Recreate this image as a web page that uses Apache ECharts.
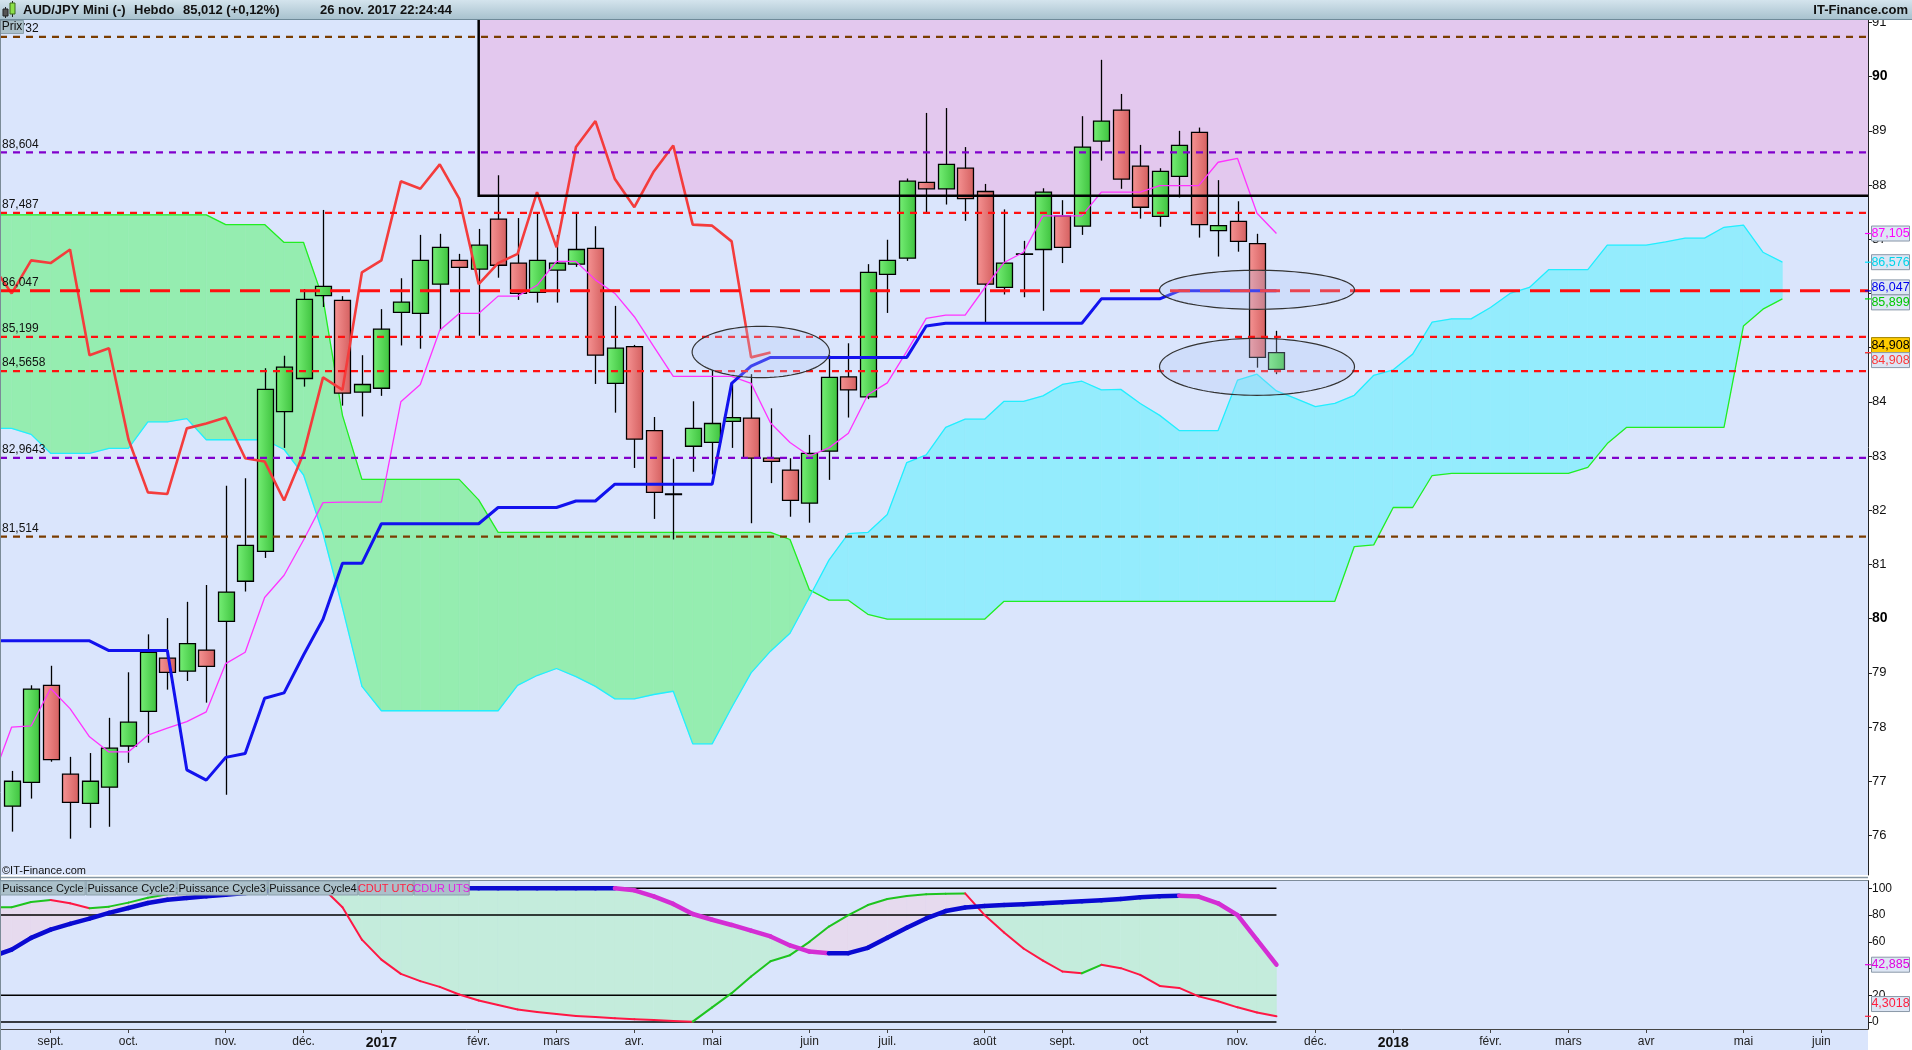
<!DOCTYPE html>
<html lang="fr">
<head>
<meta charset="utf-8">
<title>AUD/JPY Mini - Hebdo</title>
<script src="https://cdn.jsdelivr.net/npm/echarts@6.0.0/dist/echarts.min.js"></script>
<style>
  html, body { margin: 0; padding: 0; background: #fff; }
  #chart { width: 1912px; height: 1050px; }
</style>
</head>
<body>
<div id="chart"></div>
<script>
// Weekly bars. Week 0 is the bar of Monday 2016-08-22, week 65 the bar of 2017-11-20.
// Indicator lines start at week -1 so they run off the left edge like the original.
const CANDLES = [ // [open, high, low, close]
  [76.54, 77.19, 76.07, 77.00], [76.98, 78.77, 76.68, 78.70], [78.77, 79.13, 77.36, 77.40],
  [77.13, 77.45, 75.94, 76.61], [76.59, 77.52, 76.14, 77.00], [76.89, 78.17, 76.16, 77.61],
  [77.65, 79.01, 77.34, 78.09], [78.29, 79.71, 77.71, 79.38], [79.27, 80.01, 78.69, 79.01],
  [79.03, 80.31, 78.85, 79.54], [79.42, 80.62, 78.45, 79.12], [79.95, 82.45, 76.75, 80.49],
  [80.69, 82.59, 80.50, 81.35], [81.24, 84.62, 81.12, 84.23], [83.82, 84.85, 83.15, 84.64],
  [84.43, 86.08, 84.28, 85.89], [85.96, 87.54, 85.75, 86.13], [85.87, 85.95, 83.93, 84.16],
  [84.18, 84.86, 83.73, 84.32], [84.25, 85.71, 84.11, 85.34], [85.65, 86.28, 85.04, 85.84],
  [85.63, 87.08, 84.98, 86.61], [86.17, 87.10, 85.32, 86.85], [86.61, 86.73, 85.18, 86.48],
  [86.45, 87.19, 85.22, 86.89], [87.37, 88.18, 86.29, 86.52], [86.56, 87.39, 85.88, 86.00],
  [86.02, 87.48, 85.83, 86.61], [86.43, 87.08, 85.83, 86.56], [86.54, 87.48, 86.49, 86.81],
  [86.83, 87.24, 84.33, 84.86], [84.34, 85.77, 83.80, 84.99], [85.02, 85.05, 82.78, 83.31],
  [83.47, 83.72, 81.84, 82.33], [82.30, 82.95, 81.46, 82.30], [83.18, 84.01, 82.71, 83.51],
  [83.25, 84.59, 82.66, 83.60], [83.64, 84.34, 83.15, 83.71], [83.70, 84.51, 81.76, 82.96],
  [82.96, 83.88, 82.50, 82.90], [82.74, 82.96, 81.88, 82.18], [82.13, 83.39, 81.77, 83.05],
  [83.09, 84.86, 82.56, 84.45], [84.46, 85.08, 83.71, 84.22], [84.09, 86.54, 84.05, 86.39],
  [86.35, 86.99, 85.64, 86.61], [86.65, 88.12, 86.60, 88.07], [88.05, 89.33, 87.48, 87.93],
  [87.93, 89.42, 87.64, 88.38], [88.31, 88.70, 87.34, 87.75], [87.88, 88.02, 85.45, 86.17],
  [86.11, 87.55, 85.98, 86.56], [86.73, 86.97, 85.93, 86.73], [86.81, 87.94, 85.68, 87.87],
  [87.43, 87.72, 86.56, 86.85], [87.24, 89.27, 87.08, 88.70], [88.81, 90.31, 88.45, 89.18],
  [89.38, 89.68, 87.93, 88.11], [88.35, 88.74, 87.38, 87.59], [87.42, 88.31, 87.23, 88.25],
  [88.16, 89.00, 87.77, 88.73], [88.97, 89.06, 87.03, 87.27], [87.16, 88.09, 86.68, 87.25],
  [87.33, 87.70, 86.77, 86.96], [86.92, 87.10, 84.63, 84.82], [84.60, 85.31, 84.51, 84.908]
];

const LINE_START = -1; // first week of every indicator array below

const TENKAN = [ // weeks -1..65
  77.03, 78.00, 78.02, 78.71, 78.34, 77.82, 77.54, 77.54, 77.85, 77.98, 78.10, 78.28,
  79.17, 79.38, 80.39, 80.80, 81.45, 82.14, 82.15, 82.15, 82.15, 84.00, 84.32, 85.32,
  85.63, 85.63, 85.95, 85.95, 86.15, 86.59, 86.59, 86.25, 86.00, 85.57, 85.02, 84.47,
  84.47, 84.47, 84.47, 84.34, 83.61, 83.25, 83.00, 83.15, 83.42, 84.13, 84.35, 84.93,
  85.54, 85.60, 85.60, 86.10, 86.57, 86.76, 87.43, 87.43, 87.43, 87.87, 87.87, 87.87,
  87.99, 87.99, 87.99, 88.42, 88.49, 87.48, 87.105
];

const KIJUN = [ // weeks -1..65
  79.59, 79.59, 79.59, 79.59, 79.59, 79.59, 79.41, 79.41, 79.41, 79.41, 77.21, 77.02,
  77.44, 77.51, 78.53, 78.63, 79.33, 79.99, 81.02, 81.02, 81.75, 81.75, 81.75, 81.75,
  81.75, 81.75, 82.05, 82.05, 82.05, 82.05, 82.17, 82.17, 82.48, 82.48, 82.48, 82.48,
  82.48, 82.48, 84.34, 84.66, 84.82, 84.82, 84.82, 84.82, 84.82, 84.82, 84.82, 84.82,
  85.40, 85.45, 85.45, 85.45, 85.45, 85.45, 85.45, 85.45, 85.45, 85.90, 85.90, 85.90,
  85.90, 86.047, 86.047, 86.047, 86.047, 86.047, 86.047
];

const CHIKOU = [ // weeks -1..39
  86.52, 86.00, 86.61, 86.56, 86.81, 84.86, 84.99, 83.31, 82.33, 82.30, 83.51, 83.60,
  83.71, 82.96, 82.90, 82.18, 83.05, 84.45, 84.22, 86.39, 86.61, 88.07, 87.93, 88.38,
  87.75, 86.17, 86.56, 86.73, 87.87, 86.85, 88.70, 89.18, 88.11, 87.59, 88.25, 88.73,
  87.27, 87.25, 86.96, 84.82, 84.908
];

const SENKOU_A = [ // weeks -1..91
  87.45, 87.45, 87.45, 87.45, 87.45, 87.45, 87.45, 87.45, 87.45, 87.45, 87.45, 87.45,
  87.27, 87.27, 87.27, 86.94, 86.94, 85.90, 83.75, 82.57, 82.57, 82.57, 82.57, 82.57,
  82.57, 82.19, 81.59, 81.59, 81.59, 81.59, 81.59, 81.59, 81.59, 81.59, 81.59, 81.59,
  81.59, 81.59, 81.59, 81.59, 81.59, 81.46, 80.53, 80.34, 80.34, 80.08, 79.99, 79.99,
  79.99, 79.99, 79.99, 79.99, 80.32, 80.32, 80.32, 80.32, 80.32, 80.32, 80.32, 80.32,
  80.32, 80.32, 80.32, 80.32, 80.32, 80.32, 80.32, 80.32, 80.32, 80.32, 81.33, 81.36,
  82.05, 82.05, 82.64, 82.68, 82.68, 82.68, 82.68, 82.68, 82.68, 82.68, 82.79, 83.23,
  83.53, 83.53, 83.53, 83.53, 83.53, 83.53, 85.40, 85.71, 85.899
];

const SENKOU_B = [ // weeks -1..91
  83.51, 83.51, 83.40, 83.05, 83.05, 83.05, 83.14, 83.14, 83.63, 83.63, 83.69, 83.30,
  83.30, 83.30, 83.30, 83.12, 82.65, 81.57, 80.20, 78.75, 78.30, 78.30, 78.30, 78.30,
  78.30, 78.30, 78.30, 78.77, 78.95, 79.08, 78.93, 78.75, 78.52, 78.52, 78.60, 78.66,
  77.69, 77.69, 78.36, 79.00, 79.40, 79.73, 80.40, 81.08, 81.57, 81.59, 81.92, 82.88,
  83.02, 83.53, 83.68, 83.68, 84.01, 84.01, 84.11, 84.32, 84.38, 84.22, 84.23, 83.97,
  83.75, 83.47, 83.47, 83.47, 84.40, 84.51, 84.20, 84.06, 83.91, 83.97, 84.12, 84.49,
  84.59, 84.88, 85.47, 85.53, 85.53, 85.74, 86.00, 86.11, 86.44, 86.44, 86.44, 86.89,
  86.89, 86.89, 86.95, 87.02, 87.02, 87.22, 87.26, 86.76, 86.576
];

// Lower panel: "CDUR UTS" (thick) and "CDUT UTC" (thin), weeks -1..65
const CYCLE_SLOW = [
  49.0, 54.2, 62.9, 69.1, 73.4, 77.3, 81.6, 85.3, 89.0, 91.5, 92.8, 94.0,
  95.2, 96.5, 97.8, 99.0, 99.7, 100, 100, 100, 100, 100, 100, 100,
  100, 100, 100, 100, 100, 100, 100, 100, 100, 98.5, 94.0, 88.3,
  80.8, 76.5, 72.6, 68.3, 64.0, 57.3, 52.7, 51.5, 51.5, 55.5, 63.0, 70.5,
  77.5, 83.0, 85.7, 86.8, 87.5, 88.0, 88.8, 89.5, 90.3, 91.0, 92.0, 93.3,
  94.0, 94.5, 93.8, 88.8, 80.0, 61.4, 42.885
];

const CYCLE_FAST = [
  85.8, 85.8, 89.8, 91.3, 88.8, 85.1, 86.3, 89.3, 93.0, 95.5, 98.0, 99.5,
  100, 100, 100, 100, 100, 100, 85.8, 61.6, 46.7, 36.0, 30.6, 26.3,
  20.6, 16.1, 12.7, 9.4, 7.6, 6.0, 4.5, 3.7, 2.9, 2.1, 1.5, 0.8,
  0.3, 11.0, 21.6, 34.0, 45.5, 50.0, 60.0, 71.4, 80.0, 87.5, 92.0, 94.3,
  95.5, 96.0, 96.2, 80.0, 67.0, 55.0, 46.0, 37.8, 36.5, 42.8, 40.3, 35.3,
  27.0, 25.5, 19.2, 15.5, 11.0, 7.2, 4.3018
];

// Horizontal price levels drawn on the chart
const LEVELS_RED = [87.487, 85.199, 84.5658];
const LEVELS_PURPLE = [88.604, 82.9643];
const LEVELS_BROWN = [90.732, 81.514];
const LEVEL_KEY = [86.047];
const CYCLE_LEVELS = [0, 20, 80, 100];

// Shaded resistance zone: from week 24 up, above 87.80
const ZONE = [[24, 87.80]];

// Hand-drawn ellipses: [centre week, centre price, half width in weeks, half height in price]
const ELLIPSES = [
  [38.5, 84.92, 3.53, 0.474],
  [64.0, 86.067, 5.01, 0.36],
  [64.0, 84.646, 5.01, 0.526]
];

// Last values shown in the right-hand boxes
const PRICE_TAGS = [
  ["tenkan", 87.105], ["senkouB", 86.576], ["kijun", 86.047],
  ["senkouA", 85.899], ["last", 84.908], ["chikou", 84.908]
];
const CYCLE_TAGS = [["slow", 42.885], ["fast", 4.3018]];

// Month ticks on the week axis: [week, label]
const MONTH_TICKS = [
  [2, "sept."], [6, "oct."], [11, "nov."], [15, "déc."], [19, "2017"], [24, "févr."],
  [28, "mars"], [32, "avr."], [36, "mai"], [41, "juin"], [45, "juil."], [50, "août"],
  [54, "sept."], [58, "oct"], [63, "nov."], [67, "déc."], [71, "2018"], [76, "févr."],
  [80, "mars"], [84, "avr"], [89, "mai"], [93, "juin"]
];
const PRICE_TICKS = [76, 77, 78, 79, 80, 81, 82, 83, 84, 85, 86, 87, 88, 89, 90, 91];
const CYCLE_TICKS = [0, 20, 40, 60, 80, 100];

const LEGEND_TAGS = ["Puissance Cycle", "Puissance Cycle2", "Puissance Cycle3", "Puissance Cycle4", "CDUT UTC", "CDUR UTS"];
const HEADER_TEXTS = ["AUD/JPY Mini (-)", "Hebdo", "85,012 (+0,12%)", "26 nov. 2017 22:24:44"];

// ---------------------------------------------------------------------------

const FONT = '"Liberation Sans", Arial, sans-serif';
const X_MIN = -0.6, X_MAX = 95.4;
const PRICE_MIN = 75.27, PRICE_MAX = 91.05;
const CYCLE_MIN = -5.2, CYCLE_MAX = 105.7;
const LAST_WEEK = CANDLES.length - 1;
const TAG_H = 15;

const TAG_STYLE = {
  tenkan: { text: "#ff00ff", tick: "#ff00ff" },
  senkouB: { text: "#00d4ea", tick: "#00e5ff" },
  kijun: { text: "#0000ee", tick: "#0000ee" },
  senkouA: { text: "#00c800", tick: "#00dd00" },
  last: { text: "#000", tick: "#000", fill: "#ffcc00", stroke: "#a08400" },
  chikou: { text: "#ff3838", tick: "#ff3838" },
  slow: { text: "#e000e0", tick: "#e000e0" },
  fast: { text: "#ff2040", tick: "#ff2040" }
};

const fr = (v) => String(v).replace(".", ",");
const pairs = (arr, start) => arr.map((v, k) => [start + k, v]);
const monthLabel = new Map(MONTH_TICKS);

function bandSegments(upper, lower, start) {
  const out = [];
  for (let k = 0; k + 1 < upper.length; k++) {
    out.push([start + k, upper[k], lower[k], upper[k + 1], lower[k + 1]]);
  }
  return out;
}

function stepSegments(arr, start) {
  return arr.slice(0, -1).map((v, k) => [start + k, v, arr[k + 1]]);
}

// Fill between two lines, coloured by which one is on top; crossings are split.
function bandRenderer(colorFirstAbove, colorSecondAbove) {
  return (params, api) => {
    const x0 = api.value(0), x1 = x0 + 1;
    const a0 = api.value(1), b0 = api.value(2), a1 = api.value(3), b1 = api.value(4);
    const d0 = a0 - b0, d1 = a1 - b1;
    const children = [];
    const poly = (pts, color) => children.push({
      type: "polygon",
      shape: { points: pts.map((p) => api.coord(p)) },
      style: { fill: color, stroke: color, lineWidth: 0.6 }
    });
    if (d0 * d1 >= 0) {
      poly([[x0, a0], [x1, a1], [x1, b1], [x0, b0]], d0 + d1 >= 0 ? colorFirstAbove : colorSecondAbove);
    } else {
      const t = d0 / (d0 - d1);
      const xc = x0 + t, yc = a0 + (a1 - a0) * t;
      poly([[x0, a0], [xc, yc], [x0, b0]], d0 > 0 ? colorFirstAbove : colorSecondAbove);
      poly([[xc, yc], [x1, a1], [x1, b1]], d1 > 0 ? colorFirstAbove : colorSecondAbove);
    }
    return { type: "group", children };
  };
}

// Line whose segments change colour with direction.
function stepRenderer(upColor, downColor, width) {
  return (params, api) => {
    const x0 = api.value(0), v0 = api.value(1), v1 = api.value(2);
    const p0 = api.coord([x0, v0]), p1 = api.coord([x0 + 1, v1]);
    return {
      type: "line",
      shape: { x1: p0[0], y1: p0[1], x2: p1[0], y2: p1[1] },
      style: { stroke: v1 < v0 ? downColor : upColor, lineWidth: width, lineCap: "round" }
    };
  };
}

const greenBody = new echarts.graphic.LinearGradient(0, 0, 1, 0, [
  { offset: 0, color: "#76ef76" }, { offset: 1, color: "#3ec23e" }
]);
const redBody = new echarts.graphic.LinearGradient(0, 0, 1, 0, [
  { offset: 0, color: "#f69494" }, { offset: 1, color: "#d45f5f" }
]);

function renderCandle(params, api) {
  const i = api.value(0), o = api.value(1), h = api.value(2), l = api.value(3), c = api.value(4);
  const top = api.coord([i, Math.max(o, c)]);
  const bot = api.coord([i, Math.min(o, c)]);
  const hi = api.coord([i, h]), lo = api.coord([i, l]);
  const w = api.size([1, 0])[0] * 0.82;
  const x = Math.round(hi[0]) + 0.5;
  return {
    type: "group",
    children: [
      { type: "line", shape: { x1: x, y1: hi[1], x2: x, y2: lo[1] }, style: { stroke: "#000", lineWidth: 1.3 } },
      {
        type: "rect",
        shape: { x: x - w / 2, y: top[1], width: w, height: Math.max(bot[1] - top[1], 0.6) },
        style: { fill: c >= o ? greenBody : redBody, stroke: "#000", lineWidth: 1.3 }
      }
    ]
  };
}

function levelSeries(values, stroke, width, dash) {
  return {
    type: "custom", xAxisIndex: 0, yAxisIndex: 0, z: 6, silent: true,
    data: values.map((v) => [X_MIN, v]),
    renderItem: (params, api) => {
      const v = api.value(1);
      const cs = params.coordSys;
      const y = api.coord([X_MIN, v])[1];
      return {
        type: "group",
        children: [
          { type: "line", shape: { x1: cs.x, y1: y, x2: cs.x + cs.width, y2: y }, style: { stroke, lineWidth: width, lineDash: dash } },
          { type: "text", x: cs.x + 2, y: y - 2, style: { text: fr(v), fill: "#111", font: `12px ${FONT}`, align: "left", verticalAlign: "bottom" } }
        ]
      };
    }
  };
}

function lineSeries(data, color, width, z) {
  return {
    type: "line", xAxisIndex: 0, yAxisIndex: 0, data, z, silent: true,
    showSymbol: false, symbol: "none", clip: true,
    lineStyle: { color, width }
  };
}

const option = {
  animation: false,
  backgroundColor: "#ffffff",
  grid: [
    { left: 0, right: 44, top: 19.7, height: 855.3, show: true, backgroundColor: "#dae5fc", borderWidth: 0 },
    { left: 0, right: 44, top: 880.7, height: 148.6, show: true, backgroundColor: "#dae5fc", borderWidth: 0 }
  ],
  xAxis: [
    { gridIndex: 0, type: "value", min: X_MIN, max: X_MAX, show: false },
    {
      gridIndex: 1, type: "value", min: X_MIN, max: X_MAX,
      axisLine: { show: true, onZero: false, lineStyle: { color: "#444", width: 1 } },
      axisTick: { show: true, customValues: MONTH_TICKS.map((t) => t[0]), length: 4, lineStyle: { color: "#444" } },
      axisLabel: {
        customValues: MONTH_TICKS.map((t) => t[0]),
        margin: 7, color: "#222", fontSize: 12, fontFamily: FONT,
        formatter: (v) => {
          const s = monthLabel.get(Math.round(v)) || "";
          return /^\d{4}$/.test(s) ? `{y|${s}}` : s;
        },
        rich: { y: { fontWeight: "bold", fontSize: 14, color: "#111", fontFamily: FONT } }
      },
      splitLine: { show: false }
    }
  ],
  yAxis: [
    {
      gridIndex: 0, type: "value", position: "right", min: PRICE_MIN, max: PRICE_MAX,
      axisLine: { show: true, onZero: false, lineStyle: { color: "#222" } },
      axisTick: { show: true, customValues: PRICE_TICKS, length: 4, lineStyle: { color: "#222" } },
      axisLabel: {
        customValues: PRICE_TICKS, margin: 4, color: "#111", fontSize: 13, fontFamily: FONT,
        formatter: (v) => (v % 10 === 0 ? `{b|${v}}` : String(v)),
        rich: { b: { fontWeight: "bold", fontSize: 14, color: "#000", fontFamily: FONT } }
      },
      splitLine: { show: false }
    },
    {
      gridIndex: 1, type: "value", position: "right", min: CYCLE_MIN, max: CYCLE_MAX,
      axisLine: { show: true, onZero: false, lineStyle: { color: "#222" } },
      axisTick: { show: true, customValues: CYCLE_TICKS, length: 4, lineStyle: { color: "#222" } },
      axisLabel: { customValues: CYCLE_TICKS, margin: 4, color: "#111", fontSize: 12, fontFamily: FONT },
      splitLine: { show: false }
    }
  ],
  series: [
    // resistance zone fill
    {
      type: "custom", xAxisIndex: 0, yAxisIndex: 0, z: 1, silent: true, data: ZONE,
      renderItem: (params, api) => {
        const cs = params.coordSys;
        const p = api.coord([api.value(0), api.value(1)]);
        return { type: "rect", shape: { x: p[0], y: cs.y, width: cs.x + cs.width - p[0], height: p[1] - cs.y }, style: { fill: "#e3c8ee" } };
      }
    },
    // Ichimoku cloud
    {
      type: "custom", xAxisIndex: 0, yAxisIndex: 0, z: 2, silent: true, clip: true,
      data: bandSegments(SENKOU_A, SENKOU_B, LINE_START),
      renderItem: bandRenderer("#95edb0", "#94ecfd")
    },
    lineSeries(pairs(SENKOU_A, LINE_START), "#22ee22", 1.3, 3),
    lineSeries(pairs(SENKOU_B, LINE_START), "#22eeff", 1.3, 3),
    // candles
    {
      type: "custom", xAxisIndex: 0, yAxisIndex: 0, z: 4, silent: true,
      data: CANDLES.map((c, k) => [k, ...c]),
      renderItem: renderCandle
    },
    lineSeries(pairs(TENKAN, LINE_START), "#ff33ff", 1.3, 5),
    lineSeries(pairs(KIJUN, LINE_START), "#1212ee", 3, 5),
    lineSeries(pairs(CHIKOU, LINE_START), "#f43c3c", 2.6, 5),
    levelSeries(LEVELS_RED, "#ff1010", 2.2, [7, 6]),
    levelSeries(LEVELS_PURPLE, "#8000cc", 2.2, [7, 6]),
    levelSeries(LEVELS_BROWN, "#7a3d00", 2.2, [7, 6]),
    levelSeries(LEVEL_KEY, "#ff1010", 3, [20, 10]),
    // resistance zone border (left and bottom)
    {
      type: "custom", xAxisIndex: 0, yAxisIndex: 0, z: 6, silent: true, data: ZONE,
      renderItem: (params, api) => {
        const cs = params.coordSys;
        const p = api.coord([api.value(0), api.value(1)]);
        return {
          type: "polyline",
          shape: { points: [[p[0], cs.y], [p[0], p[1]], [cs.x + cs.width, p[1]]] },
          style: { stroke: "#000", lineWidth: 2.5, fill: null }
        };
      }
    },
    // ellipses
    {
      type: "custom", xAxisIndex: 0, yAxisIndex: 0, z: 7, silent: true, data: ELLIPSES,
      renderItem: (params, api) => {
        const c = api.coord([api.value(0), api.value(1)]);
        const e = api.coord([api.value(0) + api.value(2), api.value(1) + api.value(3)]);
        const a = Math.abs(e[0] - c[0]), b = Math.abs(e[1] - c[1]);
        const pts = [];
        for (let k = 0; k < 96; k++) {
          const t = (k / 96) * Math.PI * 2;
          pts.push([c[0] + a * Math.cos(t), c[1] + b * Math.sin(t)]);
        }
        return { type: "polygon", shape: { points: pts }, style: { fill: "rgba(180,200,245,0.28)", stroke: "#333", lineWidth: 1.2 } };
      }
    },

    // ---- lower panel ----
    {
      type: "custom", xAxisIndex: 1, yAxisIndex: 1, z: 2, silent: true, clip: true,
      data: bandSegments(CYCLE_SLOW, CYCLE_FAST, LINE_START),
      renderItem: bandRenderer("#c4ecdc", "#e6daee")
    },
    {
      type: "custom", xAxisIndex: 1, yAxisIndex: 1, z: 3, silent: true,
      data: CYCLE_LEVELS.map((v) => [X_MIN, v]),
      renderItem: (params, api) => {
        const p0 = api.coord([X_MIN, api.value(1)]), p1 = api.coord([LAST_WEEK, api.value(1)]);
        return { type: "line", shape: { x1: p0[0], y1: p0[1], x2: p1[0], y2: p1[1] }, style: { stroke: "#000", lineWidth: 1.4 } };
      }
    },
    {
      type: "custom", xAxisIndex: 1, yAxisIndex: 1, z: 4, silent: true, clip: true,
      data: stepSegments(CYCLE_FAST, LINE_START),
      renderItem: stepRenderer("#1ec41e", "#ff1744", 2)
    },
    {
      type: "custom", xAxisIndex: 1, yAxisIndex: 1, z: 5, silent: true, clip: true,
      data: stepSegments(CYCLE_SLOW, LINE_START),
      renderItem: stepRenderer("#0a0ad2", "#d42ed4", 4.5)
    }
  ]
};

const chart = echarts.init(document.getElementById("chart"));
chart.setOption(option);

// Spread overlapping value boxes around their mean, keeping list order.
function spread(items, h) {
  items.sort((a, b) => a.y - b.y);
  const groups = items.map((it) => ({ members: [it], y: it.y }));
  let merged = true;
  while (merged) {
    merged = false;
    for (let g = 0; g + 1 < groups.length; g++) {
      const A = groups[g], B = groups[g + 1];
      if (B.y - (B.members.length * h) / 2 < A.y + (A.members.length * h) / 2) {
        const members = A.members.concat(B.members);
        const mean = members.reduce((s, m) => s + m.y, 0) / members.length;
        groups.splice(g, 2, { members, y: mean });
        merged = true;
        break;
      }
    }
  }
  groups.forEach((G) => G.members.forEach((m, k) => { m.pos = G.y + (k - (G.members.length - 1) / 2) * h; }));
  return items;
}

// Boxes stay clear of the panel's bottom edge so the last axis label remains readable.
function valueTags(tags, yAxisIndex, minValue) {
  const floor = chart.convertToPixel({ yAxisIndex }, minValue) - TAG_H - 3;
  const items = tags.map(([key, v]) => ({ key, v, y: chart.convertToPixel({ yAxisIndex }, v) }));
  spread(items, TAG_H);
  const out = [];
  items.forEach((it) => {
    const st = TAG_STYLE[it.key];
    const pos = Math.min(it.pos, floor);
    out.push({ type: "line", z: 50, shape: { x1: 1865, y1: it.y, x2: 1871, y2: it.y }, style: { stroke: st.tick, lineWidth: 1.2 } });
    out.push({ type: "rect", z: 50, shape: { x: 1871.5, y: pos - TAG_H / 2, width: 38, height: TAG_H }, style: { fill: st.fill || "#dde6f4", stroke: st.stroke || "#8a98a8", lineWidth: 1 } });
    out.push({ type: "text", z: 51, x: 1890.5, y: pos, style: { text: fr(it.v), fill: st.text, font: `12.5px ${FONT}`, align: "center", verticalAlign: "middle" } });
  });
  return out;
}

const legendWidths = [85.7, 91, 91, 90.6, 55.4, 56];
const legendColors = ["#111", "#111", "#111", "#111", "#ff2040", "#e020e0"];
const legend = [];
let lx = 0;
LEGEND_TAGS.forEach((name, k) => {
  legend.push({ type: "rect", z: 60, shape: { x: lx + 0.5, y: 881, width: legendWidths[k] - 1, height: 14 }, style: { fill: "#abc0ca", stroke: "#8aa0ac", lineWidth: 1 } });
  legend.push({ type: "text", z: 61, x: lx + legendWidths[k] / 2, y: 888.5, style: { text: name, fill: legendColors[k], font: `11px ${FONT}`, align: "center", verticalAlign: "middle" } });
  lx += legendWidths[k];
});

const headerX = [23, 134, 183, 320];
const header = HEADER_TEXTS.map((text, k) => ({
  type: "text", z: 92, x: headerX[k], y: 10.5,
  style: { text, font: `bold 13px ${FONT}`, fill: "#111", verticalAlign: "middle" }
}));

const headerGradient = new echarts.graphic.LinearGradient(0, 0, 0, 1, [
  { offset: 0, color: "#d4e4ed" }, { offset: 1, color: "#a6c0cd" }
]);

chart.setOption({
  graphic: [
    // header bar
    { type: "rect", z: 90, shape: { x: 0, y: 0, width: 1912, height: 20 }, style: { fill: headerGradient } },
    { type: "line", z: 91, shape: { x1: 0, y1: 19.5, x2: 1912, y2: 19.5 }, style: { stroke: "#6f8a99", lineWidth: 1 } },
    { type: "line", z: 91, shape: { x1: 5.5, y1: 7, x2: 5.5, y2: 18 }, style: { stroke: "#222", lineWidth: 1 } },
    { type: "rect", z: 92, shape: { x: 3, y: 9, width: 5, height: 7 }, style: { fill: "#555", stroke: "#222", lineWidth: 1 } },
    { type: "line", z: 91, shape: { x1: 12.5, y1: 1, x2: 12.5, y2: 17 }, style: { stroke: "#222", lineWidth: 1 } },
    { type: "rect", z: 92, shape: { x: 10, y: 3, width: 5, height: 11 }, style: { fill: "#8ce04a", stroke: "#3a6a1a", lineWidth: 1 } },
    ...header,
    { type: "text", z: 92, x: 1908, y: 10.5, style: { text: "IT-Finance.com", font: `bold 13px ${FONT}`, fill: "#111", align: "right", verticalAlign: "middle" } },
    // "Prix" tag
    { type: "rect", z: 60, shape: { x: 0.5, y: 20.5, width: 23, height: 13 }, style: { fill: "#abc0ca", stroke: "#8aa0ac", lineWidth: 1 } },
    { type: "text", z: 61, x: 12, y: 27, style: { text: "Prix", font: `12px ${FONT}`, fill: "#111", align: "center", verticalAlign: "middle" } },
    // copyright
    { type: "text", z: 60, x: 2, y: 871, style: { text: "©IT-Finance.com", font: `11px ${FONT}`, fill: "#111", verticalAlign: "middle" } },
    // panel separators and borders
    { type: "line", z: 60, shape: { x1: 0, y1: 877.5, x2: 1868, y2: 877.5 }, style: { stroke: "#8596a3", lineWidth: 1.5 } },
    { type: "line", z: 60, shape: { x1: 0, y1: 880.5, x2: 1868, y2: 880.5 }, style: { stroke: "#7d8c99", lineWidth: 1 } },
    { type: "rect", z: 0, shape: { x: 0, y: 1029.3, width: 1868, height: 21 }, style: { fill: "#dae5fc" } },
    { type: "line", z: 60, shape: { x1: 0.5, y1: 20, x2: 0.5, y2: 1050 }, style: { stroke: "#7b8b97", lineWidth: 1 } },
    ...legend,
    ...valueTags(PRICE_TAGS, 0, PRICE_MIN),
    ...valueTags(CYCLE_TAGS, 1, 0)
  ]
});
</script>
</body>
</html>
